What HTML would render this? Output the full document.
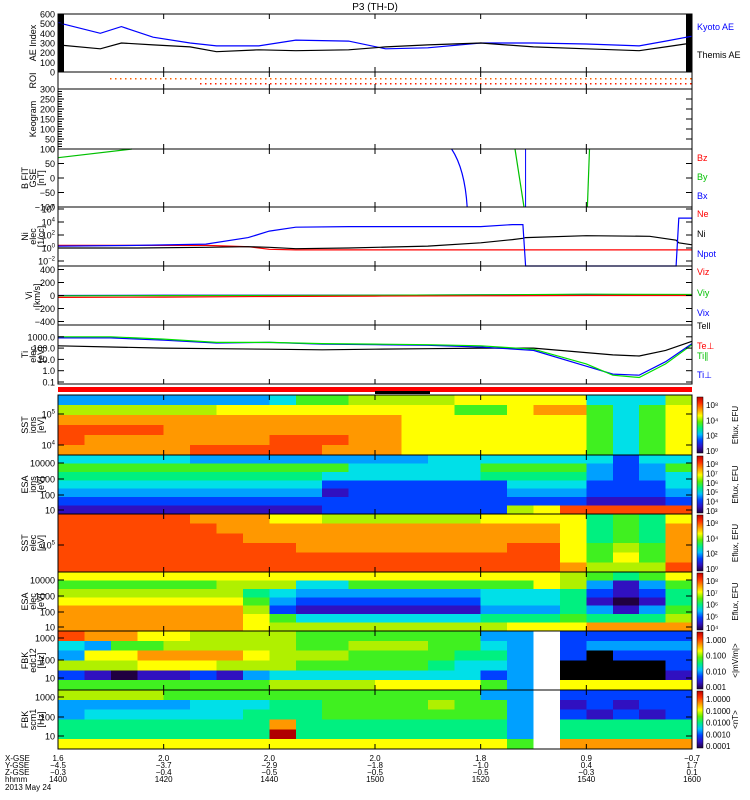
<!DOCTYPE html>
<html><head><meta charset="utf-8"><title>P3 (TH-D)</title>
<style>
html,body{margin:0;padding:0;background:#fff;}
svg{display:block;font-family:"Liberation Sans",sans-serif;}
</style></head>
<body>
<svg id="chart" width="750" height="800" viewBox="0 0 750 800" xmlns="http://www.w3.org/2000/svg">
<text x="375" y="10" font-size="10" text-anchor="middle">P3 (TH-D)</text>
</svg>
<script>
// ---------- data ----------
const tickTimes = [0, 20, 40, 60, 80, 100, 120];
const tickHHMM = ['1400','1420','1440','1500','1520','1540','1600'];
const xGse = ['1.6','2.0','2.0','2.0','1.8','0.9','-0.7'];
const yGse = ['-4.5','-3.7','-2.9','-1.8','-1.0','0.4','1.7'];
const zGse = ['-0.3','-0.4','-0.5','-0.5','-0.5','-0.3','0.1'];

const aeTimes = [0,8,12,18,25,30,38,45,55,62,70,80,90,100,110,115,120];
const kyotoAE = [510,400,470,360,300,270,270,330,320,240,250,300,300,290,270,320,370];
const themisAE = [280,240,300,280,260,210,230,220,230,260,280,300,260,240,220,260,300];

const niTimes = [0,15,28,36,40,45,55,70,80,86,88,88.5,100,112,117,117.5,120];
const niBlue  = [0.3,0.4,0.6,1.6,2.6,3.2,3.3,3.3,3.3,3.6,3.6,-3.5,-3.5,-3.5,-3.5,4.6,4.6];
const niBlack = [0,0,0.1,0.2,0.1,-0.1,0,0.3,0.8,1.3,1.5,1.6,1.9,1.8,1.2,0.8,0.5];
const niRed   = [0.4,0.4,0.4,0.2,-0.2,-0.3,-0.3,-0.3,-0.3,-0.3,-0.3,-0.3,-0.3,-0.3,-0.3,-0.3,-0.3];

const viTimes = [0,20,40,60,80,100,120];
const viz = [-30,-25,-15,-10,-5,0,0];
const viy = [-5,-2,0,5,10,20,15];
const vix = [0,5,5,5,10,15,10];

const tiTimes = [0,10,20,30,40,50,60,70,80,90,100,105,110,115,120];
const tiPar  = [3.0,3.0,2.8,2.5,2.5,2.4,2.35,2.3,2.2,1.9,0.6,-0.4,-0.6,0.6,2.3];
const tiPerp = [2.9,2.9,2.7,2.45,2.5,2.35,2.3,2.25,2.1,1.8,0.4,-0.3,-0.4,0.8,2.4];
const teTotal= [2.2,2.1,2.0,1.95,1.9,1.85,1.9,1.95,2.0,2.0,1.6,1.4,1.3,1.8,2.6];

const bfTimes = [0, 14];
const byGreen = [70, 100];

const sstIon = ["333333334667777888884447","777777888888888668996468","999999999999988888886468","aaaa99999999988888886468","a9999999aaa9988888886468","99999aaaaa99988888886468"];
const esaIon = ["444443333333334444444244","666666666664444466663236","555555555544444455553234","444444444422222224442224","333333333312222223332223","222222222222222222221112","111111111122222227 8aaaaa".replace(' ','')];
const sstEle = ["aaaaa9998877777788885658","aaaaaa999999999999985659","aaaaaaa99999999999985659","aaaaaaaaa99999999aa86769","aaaaaaaaaaaaaaaaaaa86869","aaaaaaaaaaaaaaaaaaa9777a"];
const esaEle = ["888888888888888888876568","666666777446666666873136","777777754333333344452125","888888863222222244451015","999999972111111133353136","999999986444444455565557","999999987777777778889999"];
const fbkEdc = ["a99887777666666633w22222","436677777667776643w23333","388999987776666553w2k222","777888777666665443wkkkk2","210112134444444423wkkkk1","666666667777888863w88888"];
const fbkScm = ["777766666666666633w22222","333334445566667663w12122","344444455566666663w21212","555555559555555553w55555","55555555b555555553w55555","888888888888888886w99999"];

// ---------- helpers ----------
const svg = document.getElementById('chart');
const NS = 'http://www.w3.org/2000/svg';
const X0 = 58, X1 = 692;
function xs(t){ return X0 + t/120*(X1-X0); }
function mk(tag, attrs, name, parent){
  const el = document.createElementNS(NS, tag);
  for (const k in attrs) el.setAttribute(k, attrs[k]);
  
  
  (parent||svg).appendChild(el);
  return el;
}
const cmap = {'0':'#200040','1':'#3010c0','2':'#0040ff','3':'#00a0ff','4':'#00e0e8','5':'#00f080','6':'#40f020','7':'#b0f000','8':'#ffff00','9':'#ff9800','a':'#ff4800','b':'#b00000','w':'#ffffff','k':'#000000'};
function heat(rows, y0, y1, name){
  const h = (y1-y0)/rows.length;
  rows.forEach((r, i) => {
    const w = (X1-X0)/r.length;
    for (let j=0;j<r.length;j++){
      mk('rect',{x:(X0+j*w).toFixed(2),y:(y0+i*h).toFixed(2),width:(w+0.6).toFixed(2),height:(h+0.6).toFixed(2),fill:cmap[r[j]],'shape-rendering':'crispEdges'}, name+'-cell');
    }
  });
}
function line(times, vals, yf, color, name){
  const pts = times.map((t,i)=>xs(t).toFixed(1)+','+yf(vals[i]).toFixed(1)).join(' ');
  mk('polyline',{points:pts,fill:'none',stroke:color,'stroke-width':1.2}, name);
}
function frame(y0,y1,name){
  mk('rect',{x:X0,y:y0,width:X1-X0,height:y1-y0,fill:'none',stroke:'#000','stroke-width':1}, name+'-frame');
  tickTimes.forEach(t=>{
    mk('line',{x1:xs(t),x2:xs(t),y1:y0,y2:y0+5,stroke:'#000'}, name+'-xtick');
    mk('line',{x1:xs(t),x2:xs(t),y1:y1,y2:y1-5,stroke:'#000'}, name+'-xtick');
  });
}
function yt(y, label, name, sup){
  mk('line',{x1:X0,x2:X0+6,y1:y,y2:y,stroke:'#000'}, name+'-ytick');
  mk('line',{x1:X1,x2:X1-6,y1:y,y2:y,stroke:'#000'}, name+'-ytick');
  const t = mk('text',{x:X0-3,y:y+3.5,'font-size':9,'text-anchor':'end'}, name+'-ytick-label');
  if (sup!==undefined){
    t.textContent='10';
    const s = mk('tspan',{dy:-4,'font-size':6}, name+'-ytick-exp', t);
    s.textContent = sup;
  } else t.textContent = label;
}
function ylab(lines, y0, y1, name){
  const cy=(y0+y1)/2;
  lines.forEach((s,i)=>{
    const x = 36 + (i-(lines.length-1)/2)*8;
    const t = mk('text',{x:x,y:cy,'font-size':9,'text-anchor':'middle',transform:`rotate(-90 ${x} ${cy})`}, name+'-axis-title');
    t.textContent = s;
  });
}
function rlab(txt, y, color, name){
  const t = mk('text',{x:697,y:y,'font-size':9,fill:color}, name);
  t.textContent = txt;
}
function cbar(y0,y1,labels,title,name){
  const gid='g'+name;
  const g = mk('linearGradient',{id:gid,x1:0,y1:1,x2:0,y2:0}, name+'-gradient');
  ['#200040','#3010c0','#0040ff','#00c0ff','#00f080','#60f000','#ffff00','#ff9800','#ff3000','#c00000'].forEach((c,i,a)=>{
    mk('stop',{offset:i/(a.length-1),'stop-color':c}, name+'-stop', g);
  });
  mk('rect',{x:697,y:y0,width:6,height:y1-y0,fill:`url(#${gid})`,stroke:'#000','stroke-width':0.5}, name);
  labels.forEach((l,i)=>{
    const y = y0+8+i*((y1-y0-10)/Math.max(1,labels.length-1));
    const t = mk('text',{x:706,y:y+3,'font-size':8}, name+'-label');
    t.textContent = l;
  });
  const cy=(y0+y1)/2;
  const t = mk('text',{x:738,y:cy,'font-size':8,'text-anchor':'middle',transform:`rotate(-90 738 ${cy})`}, name+'-title');
  t.textContent = title;
}

// ---------- AE panel ----------
(function(){
  const y0=14,y1=72, yf=v=>y1-v/600*(y1-y0);
  mk('rect',{x:X0,y:y0,width:6,height:y1-y0,fill:'#000'}, 'ae-left-bar');
  mk('rect',{x:X1-6,y:y0,width:6,height:y1-y0,fill:'#000'}, 'ae-right-bar');
  line(aeTimes, kyotoAE, yf, '#0000ff', 'kyoto-ae-line');
  line(aeTimes, themisAE, yf, '#000', 'themis-ae-line');
  frame(y0,y1,'ae');
  [600,500,400,300,200,100,0].forEach(v=>yt(yf(v),String(v),'ae'));
  ylab(['AE Index'],y0,y1,'ae');
  rlab('Kyoto AE',30,'#0000ff','legend-kyoto-ae');
  rlab('Themis AE',58,'#000','legend-themis-ae');
})();
// ---------- ROI ----------
(function(){
  const y0=72,y1=89;
  for(let x=110;x<X1;x+=5) mk('rect',{x:x,y:78,width:1.5,height:1.5,fill:'#ff6000'}, 'roi-dot-orange');
  for(let x=200;x<X1;x+=5) mk('rect',{x:x,y:83,width:1.5,height:1.5,fill:'#ff2000'}, 'roi-dot-red');
  frame(y0,y1,'roi');
  ylab(['ROI'],y0,y1,'roi');
})();
// ---------- Keogram ----------
(function(){
  const y0=89,y1=149, yf=v=>y1-v/300*(y1-y0);
  frame(y0,y1,'keogram');
  for(let v=0;v<=300;v+=12.5) mk('line',{x1:X0,x2:X0+4,y1:yf(v),y2:yf(v),stroke:'#000'}, 'keogram-minor-tick');
  [300,250,200,150,100,50,0].forEach(v=>yt(yf(v),String(v),'keogram'));
  ylab(['Keogram'],y0,y1,'keogram');
})();
// ---------- B FIT ----------
(function(){
  const y0=149,y1=207, yf=v=>y1-(v+100)/200*(y1-y0);
  line(bfTimes, byGreen, yf, '#00c000', 'by-line');
  mk('path',{d:`M${xs(74.5)},${y0} Q${xs(77)},${y0+20} ${xs(76.5)+5},${y1}`,fill:'none',stroke:'#0000ff','stroke-width':1.2}, 'bx-curve');
  mk('line',{x1:xs(86.5),y1:y0,x2:xs(88.2),y2:y1,stroke:'#00c000','stroke-width':1.2}, 'by-segment');
  mk('line',{x1:xs(88.5),y1:y0,x2:xs(88.5),y2:y1,stroke:'#0000ff','stroke-width':1}, 'bx-segment');
  mk('line',{x1:xs(100.6),y1:y0,x2:xs(100.2),y2:y1,stroke:'#00c000','stroke-width':1.2}, 'by-segment-2');
  frame(y0,y1,'bfit');
  [100,50,0,-50,-100].forEach(v=>yt(yf(v),v<0?'\u2212'+(-v):String(v),'bfit'));
  ylab(['B FIT','GSE','[nT]'],y0,y1,'bfit');
  rlab('Bz',161,'#ff0000','legend-bz');
  rlab('By',180,'#00c000','legend-by');
  rlab('Bx',199,'#0000ff','legend-bx');
})();
// ---------- Ni ----------
(function(){
  const y0=207,y1=266, yf=v=>248-v*6.5;
  line(niTimes, niRed, yf, '#ff0000', 'ne-line');
  line(niTimes, niBlack, yf, '#000', 'ni-line');
  line(niTimes, niBlue, v=>Math.min(y1,Math.max(y0,yf(v))), '#0000ff', 'npot-line');
  frame(y0,y1,'ni');
  [6,4,2,0,-2].forEach(e=>{ if(yf(e)>y0-1) yt(yf(e),'','ni',String(e).replace('-','\u2212')); });
  ylab(['Ni','elec','[1/cc]'],y0,y1,'ni');
  rlab('Ne',217,'#ff0000','legend-ne');
  rlab('Ni',237,'#000','legend-ni');
  rlab('Npot',257,'#0000ff','legend-npot');
})();
// ---------- Vi ----------
(function(){
  const y0=266,y1=325, yf=v=>(y0+y1)/2 - v/400*26;
  line(viTimes, vix, yf, '#0000ff', 'vix-line');
  line(viTimes, viy, yf, '#00d000', 'viy-line');
  line(viTimes, viz, yf, '#ff0000', 'viz-line');
  frame(y0,y1,'vi');
  [400,200,0,-200,-400].forEach(v=>yt(yf(v),v<0?'\u2212'+(-v):String(v),'vi'));
  ylab(['Vi','[km/s]'],y0,y1,'vi');
  rlab('Viz',275,'#ff0000','legend-viz');
  rlab('Viy',296,'#00c000','legend-viy');
  rlab('Vix',316,'#0000ff','legend-vix');
  rlab('Tell',329,'#000','legend-tell');
})();
// ---------- Ti ----------
(function(){
  const y0=325,y1=384, yf=v=>382-(v+1)*11.3;
  line(tiTimes, teTotal, yf, '#000', 'te-line');
  line(tiTimes, tiPerp, yf, '#0000ff', 'ti-perp-line');
  line(tiTimes, tiPar, yf, '#00e000', 'ti-par-line');
  frame(y0,y1,'ti');
  [[3,'1000.0'],[2,'100.0'],[1,'10.0'],[0,'1.0'],[-1,'0.1']].forEach(a=>yt(yf(a[0]),a[1],'ti'));
  ylab(['Ti','elec','[eV]'],y0,y1,'ti');
  rlab('Te\u22a5',349,'#ff0000','legend-te-perp');
  rlab('Ti\u2225',359,'#00c000','legend-ti-par');
  rlab('Ti\u22a5',378,'#0000ff','legend-ti-perp');
})();
// ---------- status bar ----------
mk('rect',{x:X0,y:387,width:X1-X0,height:5,fill:'#ff0000'}, 'mode-bar');
mk('rect',{x:375,y:391,width:55,height:3,fill:'#000'}, 'mode-bar-segment');

// ---------- spectrograms ----------
heat(sstIon,395,455,'sst-ion');
frame(395,455,'sst-ion');
yt(414,'','sst-ion','5'); yt(445,'','sst-ion','4');
ylab(['SST','ions','[eV]'],395,455,'sst-ion');
cbar(397,453,['10\u2078','10\u2074','10\u00b2','10\u2070'],'Eflux, EFU','cbar-sst-ion');

heat(esaIon,455,514,'esa-ion');
frame(455,514,'esa-ion');
[[463,'10000'],[479,'1000'],[495,'100'],[510,'10']].forEach(a=>yt(a[0],a[1],'esa-ion'));
ylab(['ESA','ions','[eV]'],455,514,'esa-ion');
cbar(456,513,['10\u2078','10\u2077','10\u2076','10\u2075','10\u2074','10\u00b3'],'Eflux, EFU','cbar-esa-ion');

heat(sstEle,514,572,'sst-ele');
frame(514,572,'sst-ele');
yt(545,'','sst-ele','5');
ylab(['SST','elec','[eV]'],514,572,'sst-ele');
cbar(515,571,['10\u2078','10\u2074','10\u00b2','10\u2070'],'Eflux, EFU','cbar-sst-ele');

heat(esaEle,572,631,'esa-ele');
frame(572,631,'esa-ele');
[[580,'10000'],[596,'1000'],[612,'100'],[627,'10']].forEach(a=>yt(a[0],a[1],'esa-ele'));
ylab(['ESA','elec','[eV]'],572,631,'esa-ele');
cbar(573,630,['10\u2078','10\u2077','10\u2076','10\u2075','10\u2074'],'Eflux, EFU','cbar-esa-ele');

heat(fbkEdc,631,690,'fbk-edc');
frame(631,690,'fbk-edc');
[[638,'1000'],[660,'100'],[678,'10']].forEach(a=>yt(a[0],a[1],'fbk-edc'));
ylab(['FBK','edc12','[Hz]'],631,690,'fbk-edc');
cbar(632,689,['1.000','0.100','0.010','0.001'],'<|mV/m|>','cbar-fbk-edc');

heat(fbkScm,690,749,'fbk-scm');
frame(690,749,'fbk-scm');
[[697,'1000'],[717,'100'],[736,'10']].forEach(a=>yt(a[0],a[1],'fbk-scm'));
ylab(['FBK','scm1','[Hz]'],690,749,'fbk-scm');
cbar(691,748,['1.0000','0.1000','0.0100','0.0010','0.0001'],'<nT>','cbar-fbk-scm');

// ---------- bottom annotation ----------
(function(){
  const rows=[['X-GSE',xGse],['Y-GSE',yGse],['Z-GSE',zGse],['hhmm',tickHHMM]];
  rows.forEach((r,i)=>{
    const y=761+i*7;
    const l = mk('text',{x:5,y:y,'font-size':8}, 'x-axis-row-label');
    l.textContent = r[0];
    tickTimes.forEach((t,j)=>{
      const s = mk('text',{x:xs(t),y:y,'font-size':8,'text-anchor':'middle'}, 'x-axis-value');
      s.textContent = r[1][j].replace('-','\u2212');
    });
  });
  const d = mk('text',{x:5,y:790,'font-size':8}, 'date-label');
  d.textContent = '2013 May 24';
})();
</script>
</body></html>
